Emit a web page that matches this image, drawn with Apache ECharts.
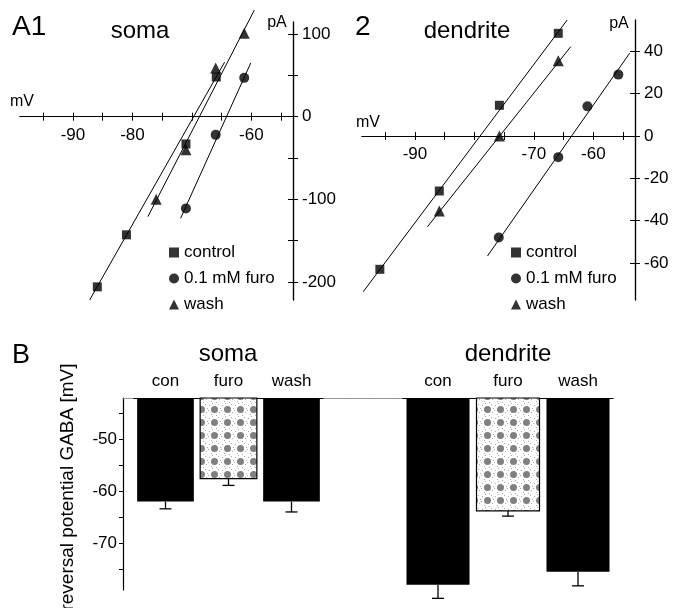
<!DOCTYPE html>
<html>
<head>
<meta charset="utf-8">
<script src="https://cdn.jsdelivr.net/npm/echarts@6/dist/echarts.min.js"></script>
<style>
  html, body { margin: 0; background: #fff; }
  #chart { width: 673px; height: 608px; }
</style>
</head>
<body>
<div id="chart"></div>
<script>
// ---- A1 soma, I-V points [mV, pA]
const somaCtrl = [[-85.9, -206], [-81.0, -143], [-71.0, -33], [-65.9, 48]];
const somaFuro = [[-71.0, -111], [-66.0, -22], [-61.2, 47]];
const somaWash = [[-76.0, -100], [-71.0, -40], [-66.0, 59], [-61.2, 101]];
// fitted lines (end points)
const somaCtrlFit = [[-87.2, -222], [-64.5, 66]];
const somaFuroFit = [[-71.9, -123], [-60.1, 65]];
const somaWashFit = [[-77.4, -121], [-59.5, 129]];

// ---- A2 dendrite
const dendCtrl = [[-95.9, -63], [-85.9, -26], [-75.8, 14.5], [-65.9, 48.5]];
const dendFuro = [[-75.9, -48], [-65.9, -10], [-61.0, 14], [-55.8, 29]];
const dendWash = [[-85.9, -35.5], [-75.8, 0], [-65.9, 35.5]];
const dendCtrlFit = [[-98.7, -73.6], [-64.4, 54.8]];
const dendFuroFit = [[-77.8, -56.7], [-53.9, 39.1]];
const dendWashFit = [[-87.9, -42.9], [-63.8, 42.2]];

// axis ranges / ticks
const vRange = [-98.9, -53.0];
const vTicks = [-95, -90, -85, -80, -75, -70, -65, -60, -55];
const somaVLabels = [-90, -80, -60];
const dendVLabels = [-90, -70, -60];
const somaIRange = [-221.9, 114.6];
const somaITicks = [100, 50, 0, -50, -100, -150, -200];
const somaILabels = [100, 0, -100, -200];
const dendIRange = [-77.5, 54.8];
const dendITicks = [40, 20, 0, -20, -40, -60];

// ---- B reversal potentials [mV]
const bCats = ['con', 'furo', 'wash'];
const somaMean = [-62.0, -57.6, -62.0];
const somaErr = [1.4, 1.3, 2.0];
const dendMean = [-78.0, -63.8, -75.5];
const dendErr = [2.6, 1.0, 2.7];
const bRange = [-79.0, -42.1];
const bTicks = [-45, -50, -55, -60, -65, -70, -75];
const bLabels = [-50, -60, -70];

const legendNames = ['control', '0.1 mM furo', 'wash'];
const FONT = 'Liberation Sans, Arial, Helvetica, sans-serif';

// panel boxes
const boxA1 = { left: 20, top: 22, width: 273, height: 278 };
const boxA2 = { left: 362, top: 20, width: 273, height: 280 };

// grey speckled fill used for the furo bars
const tile = document.createElement('canvas');
tile.width = 13; tile.height = 13;
const tc = tile.getContext('2d');
tc.fillStyle = '#fff'; tc.fillRect(0, 0, 13, 13);
tc.fillStyle = '#808080';
tc.beginPath(); tc.arc(6.5, 6.5, 3.5, 0, Math.PI * 2); tc.fill();
tc.fillStyle = '#a8a8a8';
[[1, 2], [3, 11], [10, 1], [11, 9], [0, 7], [8, 12], [12, 5], [4, 0]].forEach(p => tc.fillRect(p[0], p[1], 1, 1));
const furoPattern = { image: tile, repeat: 'repeat' };

const chart = echarts.init(document.getElementById('chart'));

function txt(text, x, y, size, align) {
  return {
    type: 'text', x: x, y: y,
    style: { text: text, font: size + 'px ' + FONT, fill: '#000', textAlign: align || 'center', textVerticalAlign: 'middle' }
  };
}

// grid whose bottom edge sits on I = 0, carrying the voltage axis
function zeroGrid(box, range) {
  return { left: box.left, top: box.top, width: box.width, height: box.height * range[1] / (range[1] - range[0]) };
}

// x axes for an I-V panel: main (labels, ticks down) + twin (ticks up)
function vAxes(grid, labels) {
  const base = {
    type: 'value', gridIndex: grid, min: vRange[0], max: vRange[1], position: 'bottom',
    axisLine: { onZero: false, lineStyle: { color: '#000', width: 1.2 } },
    splitLine: { show: false }
  };
  return [
    Object.assign({}, base, {
      axisTick: { customValues: vTicks, length: 4, lineStyle: { color: '#000' } },
      axisLabel: { customValues: labels, color: '#000', fontSize: 17, fontFamily: FONT, margin: 10 }
    }),
    Object.assign({}, base, {
      axisTick: { customValues: vTicks, inside: true, length: 4, lineStyle: { color: '#000' } },
      axisLabel: { show: false }
    })
  ];
}

function iAxes(grid, range, ticks, labels) {
  const base = {
    type: 'value', gridIndex: grid, min: range[0], max: range[1], position: 'right',
    axisLine: { onZero: false, lineStyle: { color: '#000', width: 1.2 } },
    splitLine: { show: false }
  };
  return [
    Object.assign({}, base, {
      axisTick: { customValues: ticks, length: 5, lineStyle: { color: '#000' } },
      axisLabel: { customValues: labels, color: '#000', fontSize: 17, fontFamily: FONT, margin: 9 }
    }),
    Object.assign({}, base, {
      axisTick: { customValues: ticks, inside: true, length: 5, lineStyle: { color: '#000' } },
      axisLabel: { show: false }
    })
  ];
}

function hiddenAxis(grid, range) {
  return { type: 'value', gridIndex: grid, min: range[0], max: range[1], show: false };
}

function fitLine(data, xi, yi) {
  return {
    type: 'line', data: data, xAxisIndex: xi, yAxisIndex: yi, symbol: 'none', clip: false,
    lineStyle: { color: '#000', width: 1 }, silent: true, z: 1
  };
}

function dots(name, data, symbol, size, xi, yi) {
  return {
    type: 'scatter', name: name, data: data, xAxisIndex: xi, yAxisIndex: yi,
    symbol: symbol, symbolSize: size, itemStyle: { color: '#000' }, clip: false, z: 3
  };
}

function barItem(params, api) {
  const cat = api.value(0), mean = api.value(1), err = api.value(2);
  const top = api.coord([cat, bRange[1]]);
  const bot = api.coord([cat, mean]);
  const low = api.coord([cat, mean - err]);
  const w = api.size([1, 0])[0] * 0.9;
  const isFuro = bCats[cat] === 'furo';
  return {
    type: 'group',
    children: [
      { type: 'line', shape: { x1: bot[0], y1: bot[1], x2: low[0], y2: low[1] }, style: { stroke: '#000', lineWidth: 1.3 } },
      { type: 'line', shape: { x1: low[0] - 6, y1: low[1], x2: low[0] + 6, y2: low[1] }, style: { stroke: '#000', lineWidth: 1.3 } },
      {
        type: 'rect',
        shape: { x: top[0] - w / 2, y: top[1], width: w, height: bot[1] - top[1] },
        style: isFuro ? { fill: furoPattern, stroke: '#000', lineWidth: 1.2 } : { fill: '#000' }
      }
    ]
  };
}

function bGroupAxes(grid) {
  return {
    x: {
      type: 'category', gridIndex: grid, data: bCats, position: 'top',
      axisLine: { lineStyle: { color: '#000', width: 1.2 } }, axisTick: { show: false },
      axisLabel: { color: '#000', fontSize: 17, fontFamily: FONT, margin: 8 }
    },
    y: hiddenAxis(grid, bRange)
  };
}

const bSoma = bGroupAxes(3), bDend = bGroupAxes(4);

function legendFor(left) {
  return {
    left: left, top: 239, orient: 'vertical', itemWidth: 10, itemHeight: 10, itemGap: 9,
    selectedMode: false,
    textStyle: { color: '#000', fontSize: 17, fontFamily: FONT, lineHeight: 17 },
    data: [
      { name: legendNames[0], icon: 'rect' },
      { name: legendNames[1], icon: 'circle' },
      { name: legendNames[2], icon: 'triangle' }
    ]
  };
}

chart.setOption({
  animation: false,
  backgroundColor: '#fff',
  grid: [
    boxA1,
    boxA2,
    { left: 123, top: 398, width: 490, height: 192 },
    { left: 134, top: 398, width: 189, height: 192 },
    { left: 403, top: 398, width: 210, height: 192 },
    zeroGrid(boxA1, somaIRange),
    zeroGrid(boxA2, dendIRange)
  ],
  xAxis: [
    hiddenAxis(0, vRange),
    hiddenAxis(1, vRange),
    {
      type: 'value', gridIndex: 2, min: 0, max: 1, position: 'top',
      axisLine: { lineStyle: { color: '#888', type: 'dotted', width: 1.2 } },
      axisTick: { show: false }, axisLabel: { show: false }, splitLine: { show: false }
    },
    bSoma.x,
    bDend.x,
    ...vAxes(5, somaVLabels),
    ...vAxes(6, dendVLabels)
  ],
  yAxis: [
    ...iAxes(0, somaIRange, somaITicks, somaILabels),
    ...iAxes(1, dendIRange, dendITicks, dendITicks),
    {
      type: 'value', gridIndex: 2, min: bRange[0], max: bRange[1], position: 'left',
      axisLine: { show: true, onZero: false, lineStyle: { color: '#000', width: 1.2 } },
      axisTick: { customValues: bTicks, length: 4, lineStyle: { color: '#000' } },
      axisLabel: { customValues: bLabels, color: '#000', fontSize: 17, fontFamily: FONT, margin: 6 },
      splitLine: { show: false }
    },
    bSoma.y,
    bDend.y,
    hiddenAxis(5, [0, 1]),
    hiddenAxis(6, [0, 1])
  ],
  legend: [legendFor(164), legendFor(506)],
  graphic: [
    txt('A1', 12, 27, 28, 'left'),
    txt('soma', 140, 31, 24),
    txt('pA', 277, 23, 16),
    txt('mV', 22, 102, 16),
    txt('2', 355, 27, 28, 'left'),
    txt('dendrite', 467, 31, 24),
    txt('pA', 619, 24, 16),
    txt('mV', 368, 123, 16),
    txt('B', 12, 356, 27, 'left'),
    txt('soma', 228, 354, 24),
    txt('dendrite', 508, 354, 24),
    Object.assign(txt('reversal potential GABA [mV]', 68, 487, 19), { rotation: Math.PI / 2 })
  ],
  series: [
    fitLine(somaCtrlFit, 0, 0),
    fitLine(somaFuroFit, 0, 0),
    fitLine(somaWashFit, 0, 0),
    dots(legendNames[0], somaCtrl, 'rect', 9, 0, 0),
    dots(legendNames[1], somaFuro, 'circle', 10, 0, 0),
    dots(legendNames[2], somaWash, 'triangle', 11, 0, 0),
    fitLine(dendCtrlFit, 1, 2),
    fitLine(dendFuroFit, 1, 2),
    fitLine(dendWashFit, 1, 2),
    dots(legendNames[0], dendCtrl, 'rect', 9, 1, 2),
    dots(legendNames[1], dendFuro, 'circle', 10, 1, 2),
    dots(legendNames[2], dendWash, 'triangle', 11, 1, 2),
    {
      type: 'custom', xAxisIndex: 3, yAxisIndex: 5, renderItem: barItem, clip: false,
      data: somaMean.map((m, i) => [i, m, somaErr[i]])
    },
    {
      type: 'custom', xAxisIndex: 4, yAxisIndex: 6, renderItem: barItem, clip: false,
      data: dendMean.map((m, i) => [i, m, dendErr[i]])
    }
  ]
});
</script>
</body>
</html>
